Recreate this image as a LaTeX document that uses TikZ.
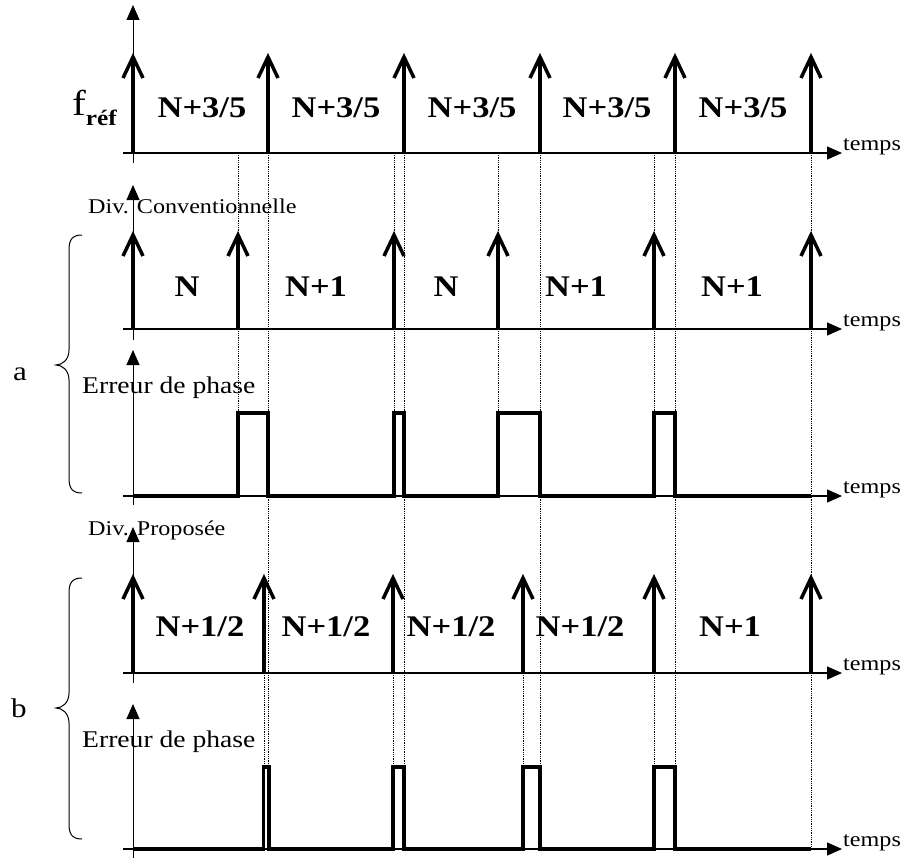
\documentclass[tikz,border=0pt]{standalone}
\usepackage{fontspec}
\setmainfont{Liberation Serif}[FakeStretch=1.15]
\usetikzlibrary{arrows.meta}
\tikzset{
  axisline/.style={line width=1pt,-{Triangle[length=15pt,width=13pt]}},
  haxis/.style={line width=1.5pt,-{Triangle[length=15pt,width=13pt]}},
  impline/.style={line width=4pt},
  headline/.style={line width=3.5pt,line join=miter,line cap=butt},
  wave/.style={line width=3.8pt,line join=miter},
  guide/.style={line width=0.8pt,densely dotted},
  bracestyle/.style={line width=1pt},
  big/.style={font=\fontsize{30}{31}\selectfont\bfseries},
  small/.style={font=\fontsize{21}{22}\selectfont},
  mid/.style={font=\fontsize{24}{25}\selectfont},
}
\newcommand{\impulse}[3]{%
  \draw[impline] (#1,#2) -- (#1,#3+3);
  \draw[headline] (#1-10,#3+21) -- (#1,#3) -- (#1+10,#3+21);}
\begin{document}
\begin{tikzpicture}[x=1pt,y=-1pt]
\useasboundingbox (0,0) rectangle (904,859);
% guide lines
\foreach \g in {268,404,540,675,811} \draw[guide] (\g,153) -- (\g,849);
\foreach \g in {238,394,498,654} \draw[guide] (\g,153) -- (\g,413);
\foreach \g in {264,393,523,654} \draw[guide] (\g,673) -- (\g,767);
% vertical axes
\draw[axisline] (133,163) -- (133,5);
\draw[axisline] (133,340) -- (133,185);
\draw[axisline] (133,505) -- (133,350);
\draw[axisline] (133,683) -- (133,527);
\draw[axisline] (133,858) -- (133,704);
% horizontal axes
\foreach \y in {153,329,496,673,849} {
  \draw[haxis] (123,\y) -- (842,\y);
  \node[small,anchor=base west,inner sep=0pt] (t\y) at (843,\y-3) {temps};
}
% impulses
\foreach \x in {133,268,404,540,675,811} {\impulse{\x}{153}{57}}
\foreach \x in {133,238,394,498,654,811} {\impulse{\x}{329}{235}}
\foreach \x in {133,264,393,523,654,811} {\impulse{\x}{673}{578}}
% phase error waveforms
\draw[wave] (133,496) -- (238,496) -- (238,413) -- (268,413) -- (268,496)
  -- (394,496) -- (394,413) -- (404,413) -- (404,496)
  -- (498,496) -- (498,413) -- (540,413) -- (540,496)
  -- (654,496) -- (654,413) -- (675,413) -- (675,496) -- (811,496);
\draw[wave] (133,849) -- (263.5,849) -- (263.5,767) -- (269,767) -- (269,849)
  -- (393,849) -- (393,767) -- (404,767) -- (404,849)
  -- (523,849) -- (523,767) -- (540,767) -- (540,849)
  -- (654,849) -- (654,767) -- (675,767) -- (675,849) -- (811,849);
% labels
\node[anchor=base west,inner sep=0pt] (fref) at (72,115)
  {{\fontsize{36}{36}\selectfont f}\raisebox{-10pt}{\fontsize{22}{22}\selectfont\bfseries réf}};
\foreach \x [count=\i] in {202,336,472,607,743}
  \node[big] (r\i) at (\x,108) {N+3/5};
\node[big] (c1) at (187,287) {N};
\node[big] (c2) at (316,287) {N+1};
\node[big] (c3) at (446,287) {N};
\node[big] (c4) at (576,287) {N+1};
\node[big] (c5) at (732,287) {N+1};
\node[big] (p1) at (200,627) {N+1/2};
\node[big] (p2) at (326,627) {N+1/2};
\node[big] (p3) at (451,627) {N+1/2};
\node[big] (p4) at (580,627) {N+1/2};
\node[big] (p5) at (730,627) {N+1};
\node[small,anchor=base west,inner sep=0pt] (divc) at (88,213) {Div. Conventionnelle};
\node[mid,anchor=base west,inner sep=0pt] (erra) at (82,393) {Erreur de phase};
\node[small,anchor=base west,inner sep=0pt] (divp) at (88,535) {Div. Proposée};
\node[mid,anchor=base west,inner sep=0pt] (errb) at (82,747) {Erreur de phase};
\node[font=\fontsize{27}{27}\selectfont,anchor=base west,inner sep=0pt] (la) at (13,380) {a};
\node[font=\fontsize{27}{27}\selectfont,anchor=base west,inner sep=0pt] (lb) at (11,717) {b};
% braces
\draw[bracestyle] (82,235) .. controls (72,235) and (69,240) .. (69,250) -- (69,350)
  .. controls (69,360) and (62,365) .. (56,365) .. controls (62,365) and (69,370) .. (69,380)
  -- (69,478) .. controls (69,488) and (72,493) .. (82,493);
\draw[bracestyle] (82,578) .. controls (72,578) and (69,583) .. (69,593) -- (69,693)
  .. controls (69,703) and (62,708) .. (56,708) .. controls (62,708) and (69,713) .. (69,723)
  -- (69,824) .. controls (69,834) and (72,839) .. (82,839);
\end{tikzpicture}
\end{document}
